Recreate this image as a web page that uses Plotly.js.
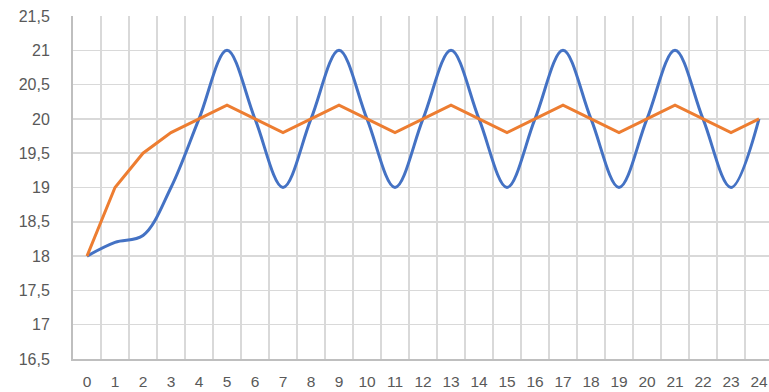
<!DOCTYPE html>
<html>
<head>
<meta charset="utf-8">
<script src="https://cdn.plot.ly/plotly-3.0.1.min.js"></script>
<style>html,body{margin:0;padding:0;background:#fff;}#chart{width:769px;height:392px;}</style>
</head>
<body>
<div id="chart"></div>
<script>
const hours = ["0","1","2","3","4","5","6","7","8","9","10","11","12","13","14","15","16","17","18","19","20","21","22","23","24"];
const blueSeries = [18, 18.2, 18.3, 19, 20, 21, 20, 19, 20, 21, 20, 19, 20, 21, 20, 19, 20, 21, 20, 19, 20, 21, 20, 19, 20];
const orangeSeries = [18, 19, 19.5, 19.8, 20, 20.2, 20, 19.8, 20, 20.2, 20, 19.8, 20, 20.2, 20, 19.8, 20, 20.2, 20, 19.8, 20, 20.2, 20, 19.8, 20];
const yTicks = [16.5, 17, 17.5, 18, 18.5, 19, 19.5, 20, 20.5, 21, 21.5];

const traces = [
  {x: hours, y: blueSeries, type: 'scatter', mode: 'lines',
   line: {color: '#4472C4', width: 3, shape: 'spline', smoothing: 1}, hoverinfo: 'none'},
  {x: hours, y: orangeSeries, type: 'scatter', mode: 'lines',
   line: {color: '#ED7D31', width: 3}, hoverinfo: 'none'}
];

const layout = {
  width: 769, height: 392,
  margin: {l: 73, r: 0, t: 16, b: 33},
  paper_bgcolor: '#ffffff', plot_bgcolor: 'rgba(0,0,0,0)',
  showlegend: false,
  separators: ', ',
  font: {family: 'Liberation Sans, Arial, sans-serif', size: 16, color: '#595959'},
  xaxis: {
    type: 'category', range: [-0.5, 24.357], tickson: 'boundaries',
    showgrid: true, gridcolor: '#D9D9D9', gridwidth: 1.5,
    showline: true, linecolor: '#BFBFBF', linewidth: 2,
    ticks: '', ticklabelstandoff: 7, zeroline: false,
    tickfont: {size: 15.5, color: '#595959'}
  },
  yaxis: {
    range: [16.5, 21.5], tickvals: yTicks,
    showgrid: true, gridcolor: '#D9D9D9', gridwidth: 1.5,
    showline: true, linecolor: '#BFBFBF', linewidth: 2,
    ticks: '', ticklabelstandoff: 18, zeroline: false,
    tickfont: {size: 16, color: '#595959'}
  }
};

Plotly.newPlot('chart', traces, layout, {staticPlot: true, displayModeBar: false});
</script>
</body>
</html>
